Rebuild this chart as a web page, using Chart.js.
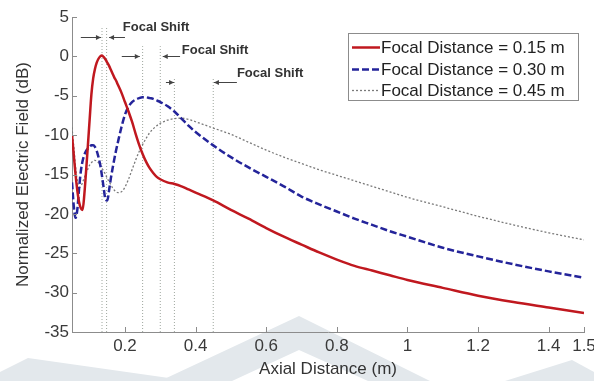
<!DOCTYPE html>
<html><head><meta charset="utf-8">
<script src="https://cdn.jsdelivr.net/npm/chart.js@4.4.0/dist/chart.umd.min.js"></script>
<style>html,body{margin:0;padding:0;background:#fff;} #wrap{width:594px;height:381px;position:relative;}</style>
</head><body><div id="wrap"><canvas id="c"></canvas></div>
<script>
// ---- data ----
const axialDistance = [0.05,0.055,0.06,0.065,0.07,0.075,0.08,0.085,0.09,0.095,0.1,0.105,0.11,0.115,0.12,0.125,0.13,0.135,0.14,0.145,0.15,0.155,0.16,0.165,0.17,0.175,0.18,0.19,0.2,0.21,0.22,0.23,0.24,0.25,0.26,0.27,0.28,0.29,0.3,0.32,0.34,0.36,0.38,0.4,0.45,0.5,0.55,0.6,0.65,0.7,0.75,0.8,0.85,0.9,0.95,1.0,1.1,1.2,1.3,1.4,1.5];
const focal015 = [-10,-12.5,-15,-17,-18.5,-19.3,-19.5,-17.5,-14.5,-11.3,-8,-4.8,-2.8,-1.6,-0.8,-0.3,0,0.1,-0.1,-0.4,-0.8,-1.2,-1.7,-2.2,-2.7,-3.1,-3.6,-4.6,-5.8,-7.0,-8.3,-9.8,-11.2,-12.4,-13.4,-14.2,-14.8,-15.3,-15.6,-16.0,-16.2,-16.5,-16.9,-17.3,-18.3,-19.5,-20.6,-21.8,-22.9,-23.9,-24.9,-25.8,-26.6,-27.2,-27.8,-28.4,-29.4,-30.4,-31.2,-31.9,-32.6];
const focal030 = [-16,-19,-20.5,-19.5,-16.8,-14.6,-13.3,-12.5,-12,-11.7,-11.5,-11.3,-11.3,-11.5,-12,-12.8,-13.8,-15.2,-16.8,-18.2,-18.3,-17.0,-15.5,-14.2,-13.0,-11.9,-10.9,-9.0,-7.4,-6.4,-5.8,-5.5,-5.3,-5.2,-5.2,-5.3,-5.4,-5.6,-5.8,-6.3,-7.0,-7.9,-8.8,-9.6,-11.3,-12.8,-14.1,-15.3,-16.5,-17.8,-18.8,-19.7,-20.6,-21.4,-22.2,-22.9,-24.3,-25.4,-26.4,-27.3,-28.1];
const focal045 = [-9,-11.5,-14,-15.8,-16.6,-16.5,-16,-15.4,-14.8,-14.3,-13.8,-13.5,-13.3,-13.2,-13.3,-13.5,-13.8,-14.2,-14.6,-15.0,-15.5,-15.9,-16.3,-16.7,-17.0,-17.2,-17.3,-17.2,-16.6,-15.6,-14.4,-13.2,-12.1,-11.2,-10.4,-9.7,-9.2,-8.8,-8.5,-8.1,-7.9,-7.85,-8.0,-8.3,-9.1,-9.9,-10.9,-11.9,-12.8,-13.6,-14.4,-15.1,-15.8,-16.5,-17.2,-17.9,-19.1,-20.3,-21.4,-22.4,-23.3];
const seriesNames = ['Focal Distance = 0.15 m','Focal Distance = 0.30 m','Focal Distance = 0.45 m'];
const xTickValues = [0.2,0.4,0.6,0.8,1.0,1.2,1.4,1.5];
const xTickLabels = ['0.2','0.4','0.6','0.8','1','1.2','1.4','1.5'];
const yTickValues = [-35,-30,-25,-20,-15,-10,-5,0,5];
const yTickLabels = ['-35','-30','-25','-20','-15','-10','-5','0','5'];
const xTitle = 'Axial Distance (m)';
const yTitle = 'Normalized Electric Field (dB)';
// focal marker lines (x in m, top in dB)
const markerX = [0.135,0.148,0.25,0.30,0.34,0.45];
const markerTop = [3.6,3.6,1.3,1.3,-2.7,-2.7];
// "Focal Shift" annotations (data units)
const shiftText = 'Focal Shift';
const shiftLabelX = [0.194,0.361,0.517];
const shiftLabelY = [3.7,0.8,-2.2];
const arrowY = [2.5,0.0,-3.3];
const arrowRightFrom = [0.075,0.191,0.316];
const arrowRightTo = [0.132,0.242,0.339];
const arrowLeftFrom = [0.2,0.356,0.517];
const arrowLeftTo = [0.155,0.307,0.452];

// ---- styles ----
const FONT = "'Liberation Sans', Arial, sans-serif";
const seriesColors = ['#c0181f','#24249a','#7a7a7a'];
const seriesWidths = [2.5,2.5,1.3];
const seriesDashes = [[],[7,3],[2,2]];

const pts = ys => axialDistance.map((x,i)=>({x:x,y:ys[i]}));
const seriesData = [focal015, focal030, focal045];

const datasets = seriesData.map((ys,i)=>({
  label: seriesNames[i], data: pts(ys), borderColor: seriesColors[i], borderWidth: seriesWidths[i],
  borderDash: seriesDashes[i], pointRadius: 0, cubicInterpolationMode: 'monotone', fill: false, order: 1
}));
markerX.forEach((x,i)=>{
  datasets.push({label:'', data:[{x:x,y:-35},{x:x,y:markerTop[i]}], borderColor:'#9ea69e', borderWidth:1,
    borderDash:[1,2], pointRadius:0, fill:false, order:5});
});

function arrow(ctx, x1, x2, y){
  ctx.beginPath(); ctx.moveTo(x1,y); ctx.lineTo(x2,y); ctx.stroke();
  const d = x2 > x1 ? 1 : -1;
  ctx.beginPath(); ctx.moveTo(x2,y); ctx.lineTo(x2-d*5,y-2.5); ctx.lineTo(x2-d*5,y+2.5); ctx.closePath(); ctx.fill();
}

const decor = {
  id: 'decor',
  beforeDraw(chart){
    const ctx = chart.ctx; ctx.save();
    ctx.fillStyle = '#fff'; ctx.fillRect(0,0,chart.width,chart.height);
    // faint watermark
    ctx.fillStyle = '#e3e8ec';
    ctx.beginPath();
    ctx.moveTo(299,316); ctx.lineTo(430,381); ctx.lineTo(368,381); ctx.lineTo(299,350); ctx.lineTo(232,381); ctx.lineTo(160,381); ctx.closePath(); ctx.fill();
    ctx.beginPath(); ctx.moveTo(0,372); ctx.lineTo(28,358); ctx.lineTo(190,381); ctx.lineTo(0,381); ctx.closePath(); ctx.fill();
    ctx.beginPath(); ctx.moveTo(505,381); ctx.lineTo(572,360); ctx.lineTo(594,372); ctx.lineTo(594,381); ctx.closePath(); ctx.fill();
    ctx.restore();
  },
  afterDatasetsDraw(chart){
    const ctx = chart.ctx, xs = chart.scales.x, ys = chart.scales.y, a = chart.chartArea;
    ctx.save();
    // inward ticks
    ctx.strokeStyle = '#8c8c8c'; ctx.lineWidth = 1;
    xTickValues.forEach(v=>{ const p = Math.round(xs.getPixelForValue(v))+0.5; ctx.beginPath(); ctx.moveTo(p,a.bottom); ctx.lineTo(p,a.bottom-5); ctx.stroke(); });
    yTickValues.forEach(v=>{ const p = Math.round(ys.getPixelForValue(v))+0.5; ctx.beginPath(); ctx.moveTo(a.left,p); ctx.lineTo(a.left+5,p); ctx.stroke(); });
    // focal shift annotations
    ctx.strokeStyle = '#444'; ctx.fillStyle = '#444'; ctx.lineWidth = 1;
    for (let i=0;i<shiftLabelX.length;i++){
      const y = Math.round(ys.getPixelForValue(arrowY[i]))+0.5;
      arrow(ctx, xs.getPixelForValue(arrowRightFrom[i]), xs.getPixelForValue(arrowRightTo[i]), y);
      arrow(ctx, xs.getPixelForValue(arrowLeftFrom[i]), xs.getPixelForValue(arrowLeftTo[i]), y);
    }
    ctx.fillStyle = '#333'; ctx.font = 'bold 13px ' + FONT; ctx.textBaseline = 'middle'; ctx.textAlign = 'left';
    for (let i=0;i<shiftLabelX.length;i++){
      ctx.fillText(shiftText, xs.getPixelForValue(shiftLabelX[i]), ys.getPixelForValue(shiftLabelY[i]));
    }
    // legend box
    const bx = a.right - 236, by = a.top + 16, bw = 230, bh = 67;
    ctx.fillStyle = '#fff'; ctx.fillRect(bx,by,bw,bh);
    ctx.strokeStyle = '#8c8c8c'; ctx.lineWidth = 1; ctx.strokeRect(bx+0.5,by+0.5,bw,bh);
    ctx.font = '17px ' + FONT; ctx.textBaseline = 'middle';
    for (let i=0;i<3;i++){
      const ds = chart.data.datasets[i];
      const ry = Math.round(by + 14 + i*21.5) + 0.5;
      ctx.strokeStyle = ds.borderColor; ctx.lineWidth = ds.borderWidth; ctx.setLineDash(ds.borderDash);
      ctx.beginPath(); ctx.moveTo(bx+4,ry); ctx.lineTo(bx+32,ry); ctx.stroke();
      ctx.setLineDash([]);
      ctx.fillStyle = '#222'; ctx.fillText(ds.label, bx+33, ry+0.5);
    }
    ctx.restore();
  }
};

new Chart(document.getElementById('c'), {
  type: 'line',
  data: { datasets: datasets },
  plugins: [decor],
  options: {
    responsive: true, maintainAspectRatio: false, animation: false,
    layout: { padding: { top: 17, right: 10, left: 0, bottom: 0 } },
    plugins: { legend: { display: false }, tooltip: { enabled: false } },
    scales: {
      x: {
        type: 'linear', min: 0.05, max: 1.5,
        grid: { display: false, drawTicks: false },
        border: { display: true, color: '#8c8c8c', width: 1 },
        afterBuildTicks: s => { s.ticks = xTickValues.map(v=>({value:v})); },
        ticks: { autoSkip: false, maxRotation: 0, padding: 4, color: '#3a3a3a', font: { family: FONT, size: 17 },
                 callback: (v,i) => xTickLabels[i] },
        title: { display: true, text: xTitle, color: '#333', font: { family: FONT, size: 17 }, padding: { top: 0, bottom: 1 } },
        afterFit: s => { s.height = 49; s.paddingLeft = 0; s.paddingRight = 0; }
      },
      y: {
        type: 'linear', min: -35, max: 5,
        grid: { display: false, drawTicks: false },
        border: { display: true, color: '#8c8c8c', width: 1 },
        afterBuildTicks: s => { s.ticks = yTickValues.map(v=>({value:v})); },
        ticks: { autoSkip: false, padding: 3, color: '#3a3a3a', font: { family: FONT, size: 17 },
                 callback: (v,i) => yTickLabels[i] },
        title: { display: true, text: yTitle, color: '#333', font: { family: FONT, size: 17 }, padding: { top: 13, bottom: 0 } },
        afterFit: s => { s.width = 72; s.paddingTop = 0; s.paddingBottom = 0; }
      }
    }
  }
});
</script>
</body></html>
